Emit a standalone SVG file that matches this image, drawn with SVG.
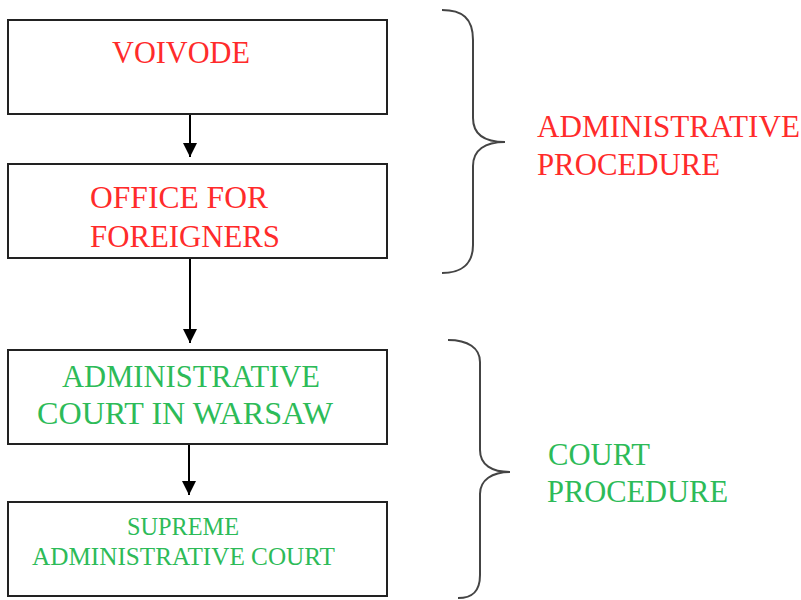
<svg xmlns="http://www.w3.org/2000/svg" width="801" height="600" viewBox="0 0 801 600">
<style>
.box{fill:#fff;stroke:#222;stroke-width:2}
.t{font-family:"Liberation Serif","Times New Roman",serif;font-size:31px}
.s{font-size:25px}
.red{fill:#ff2b2b}
.grn{fill:#2dbb58}
.brace{fill:none;stroke:#444;stroke-width:2}
.conn{stroke:#000;stroke-width:2;fill:none}
</style>
<defs>
<marker id="ah" viewBox="0 0 10 10" refX="10" refY="5" markerWidth="7" markerHeight="7" markerUnits="strokeWidth" orient="auto">
<path d="M0,0 L10,5 L0,10 z" fill="#000"/>
</marker>
</defs>
<rect width="801" height="600" fill="#fff"/>
<g id="connectors">
<line class="conn" x1="190" y1="115" x2="190" y2="157" marker-end="url(#ah)"/>
<line class="conn" x1="190" y1="259" x2="190" y2="343" marker-end="url(#ah)"/>
<line class="conn" x1="189" y1="445" x2="189" y2="495" marker-end="url(#ah)"/>
</g>
<g id="voivode">
<rect class="box" x="8" y="20" width="379" height="94"/>
<text class="t red" x="112" y="63" textLength="138" lengthAdjust="spacingAndGlyphs">VOIVODE</text>
</g>
<g id="office">
<rect class="box" x="8" y="164" width="379" height="94"/>
<text class="t red" x="90" y="208" textLength="178" lengthAdjust="spacingAndGlyphs">OFFICE FOR</text>
<text class="t red" x="90" y="247" textLength="190" lengthAdjust="spacingAndGlyphs">FOREIGNERS</text>
</g>
<g id="admin-court">
<rect class="box" x="8" y="350" width="379" height="94"/>
<text class="t grn" x="62" y="387" textLength="258" lengthAdjust="spacingAndGlyphs">ADMINISTRATIVE</text>
<text class="t grn" x="37" y="424" textLength="296" lengthAdjust="spacingAndGlyphs">COURT IN WARSAW</text>
</g>
<g id="supreme">
<rect class="box" x="8" y="502" width="379" height="94"/>
<text class="t s grn" x="127" y="535" textLength="112" lengthAdjust="spacingAndGlyphs">SUPREME</text>
<text class="t s grn" x="32" y="565" textLength="303" lengthAdjust="spacingAndGlyphs">ADMINISTRATIVE COURT</text>
</g>
<g id="admin-procedure">
<path class="brace" d="M442,10 C462,10 473,18 473,40 L473,118 C473,135 485,142 505,142 C485,142 473,150 473,166 L473,245 C473,265 460,273 442,273"/>
<text class="t red" x="537" y="137" textLength="263" lengthAdjust="spacingAndGlyphs">ADMINISTRATIVE</text>
<text class="t red" x="537" y="175" textLength="183" lengthAdjust="spacingAndGlyphs">PROCEDURE</text>
</g>
<g id="court-procedure">
<path class="brace" d="M448,340 C468,340 480,348 480,362 L480,450 C480,465 492,472 510,472 C492,472 480,480 480,494 L480,575 C480,592 472,598 458,598"/>
<text class="t grn" x="548" y="465" textLength="102" lengthAdjust="spacingAndGlyphs">COURT</text>
<text class="t grn" x="547" y="502" textLength="181" lengthAdjust="spacingAndGlyphs">PROCEDURE</text>
</g>
</svg>
